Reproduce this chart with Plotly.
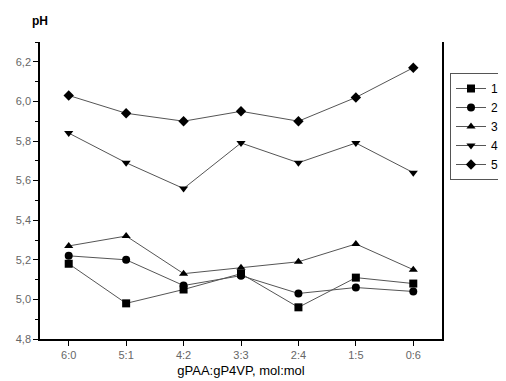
import plotly.graph_objects as go

categories = ["6:0", "5:1", "4:2", "3:3", "2:4", "1:5", "0:6"]
s1 = [5.18, 4.98, 5.05, 5.13, 4.96, 5.11, 5.08]
s2 = [5.22, 5.20, 5.07, 5.12, 5.03, 5.06, 5.04]
s3 = [5.27, 5.32, 5.13, 5.16, 5.19, 5.28, 5.15]
s4 = [5.84, 5.69, 5.56, 5.79, 5.69, 5.79, 5.64]
s5 = [6.03, 5.94, 5.90, 5.95, 5.90, 6.02, 6.17]
names = ["1", "2", "3", "4", "5"]
symbols = ["square", "circle", "triangle-up", "triangle-down", "diamond"]
ytick_vals = [4.8, 5.0, 5.2, 5.4, 5.6, 5.8, 6.0, 6.2]
ytick_text = ["4,8", "5,0", "5,2", "5,4", "5,6", "5,8", "6,0", "6,2"]

fig = go.Figure()
for name, ys, sym in zip(names, [s1, s2, s3, s4, s5], symbols):
    fig.add_trace(go.Scatter(
        x=list(range(len(categories))), y=ys, name=name, mode="lines+markers",
        line=dict(color="#555555", width=1),
        marker=dict(symbol=sym, size=8, color="black"),
    ))

# page body has an 8px margin, so the figure is offset by 8px
OFF = 8
W, H = 506 - OFF, 381 - OFF
L, R_AX, T, B = 40 - OFF, 442 - OFF, 42 - OFF, 381 - 339
ph = H - T - B
pw = W - L
fig.update_layout(
    width=W, height=H,
    margin=dict(l=L, r=0, t=T, b=B),
    paper_bgcolor="white", plot_bgcolor="white",
    font=dict(family="Liberation Sans, Arial, sans-serif", color="#666666", size=11),
    showlegend=True,
    legend=dict(
        x=(450 - OFF - L) / pw, y=(H - B - (73 - OFF)) / ph, xanchor="left", yanchor="top",
        bordercolor="#555555", borderwidth=1, bgcolor="white",
        font=dict(size=12, color="black"), itemwidth=30,
        tracegroupgap=0,
    ),
    annotations=[dict(
        text="<b>pH</b>", xref="paper", yref="paper",
        x=0.0, y=(H - B - (21 - OFF)) / ph, xanchor="center", yanchor="middle",
        showarrow=False, font=dict(size=12, color="black"),
    )],
)

fig.update_xaxes(
    domain=[0, (R_AX - L) / pw],
    range=[-0.5, 6.5],
    tickvals=list(range(len(categories))), ticktext=categories,
    showline=True, linecolor="black", linewidth=1.5,
    ticks="outside", ticklen=5, tickcolor="black", tickwidth=1,
    showgrid=False, zeroline=False, mirror=False,
    title=dict(text="gPAA:gP4VP, mol:mol", font=dict(size=13, color="black"), standoff=6),
)
fig.update_yaxes(
    range=[4.8, 6.3],
    tickvals=ytick_vals, ticktext=ytick_text,
    showline=True, linecolor="black", linewidth=1.5, mirror=True,
    ticks="outside", ticklen=5, tickcolor="black", tickwidth=1,
    minor=dict(dtick=0.1, tick0=4.8, ticks="outside", ticklen=3, tickcolor="black"),
    showgrid=False, zeroline=False,
)

fig.write_html("out.html")
